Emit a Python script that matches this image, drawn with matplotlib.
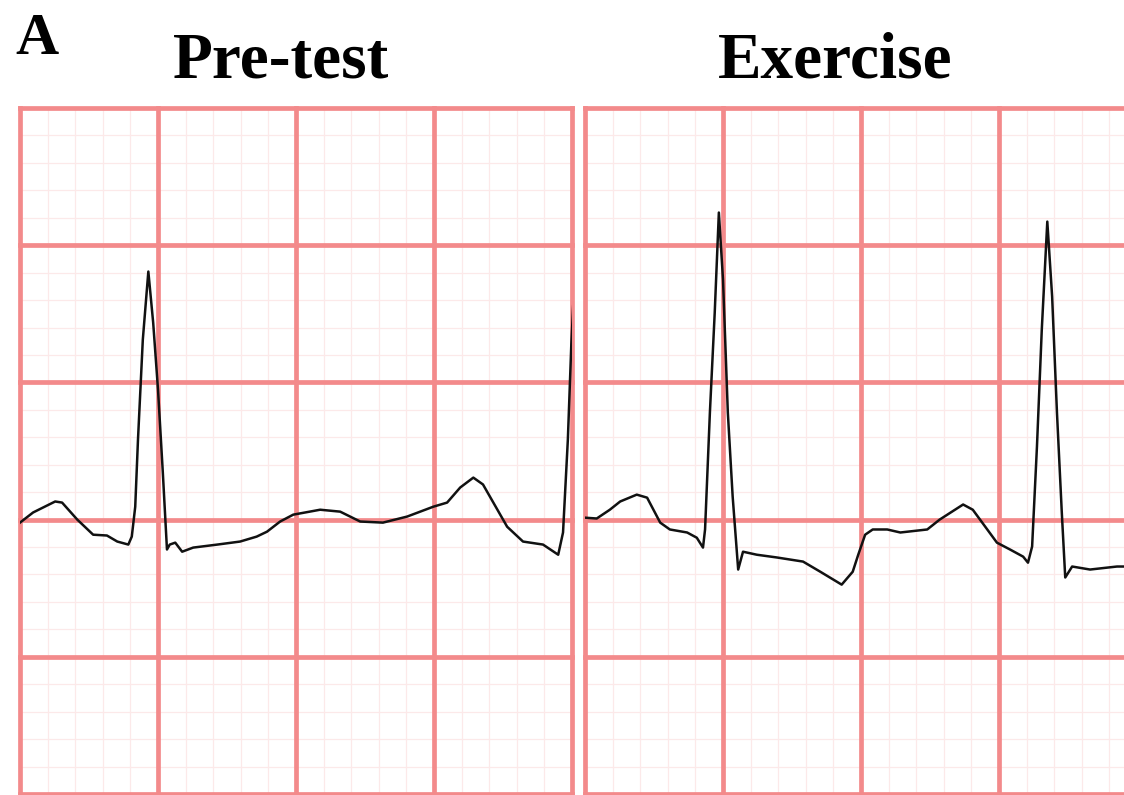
import matplotlib
matplotlib.use('Agg')
import matplotlib.pyplot as plt
import numpy as np

# ECG traces: time (s) and voltage (mV), 25 mm/s, 10 mm/mV
pre_t = [0.000, 0.019, 0.051, 0.061, 0.083, 0.106, 0.126, 0.141, 0.157, 0.162,
         0.167, 0.171, 0.178, 0.186, 0.193, 0.200, 0.207, 0.213, 0.217, 0.225,
         0.235, 0.251, 0.286, 0.319, 0.343, 0.358, 0.377, 0.396, 0.435, 0.464,
         0.493, 0.526, 0.561, 0.599, 0.619, 0.638, 0.657, 0.671, 0.706, 0.729,
         0.758, 0.780, 0.787, 0.794, 0.799, 0.805]
pre_mv = [-0.011, 0.026, 0.066, 0.062, 0.000, -0.055, -0.058, -0.080, -0.091, -0.062,
          0.047, 0.292, 0.656, 0.904, 0.718, 0.474, 0.171, -0.109, -0.091, -0.084,
          -0.117, -0.102, -0.091, -0.080, -0.062, -0.044, -0.007, 0.018, 0.036, 0.029,
          -0.007, -0.011, 0.011, 0.047, 0.062, 0.117, 0.153, 0.128, -0.026, -0.080,
          -0.091, -0.128, -0.047, 0.292, 0.638, 0.950]

ex_t = [0.000, 0.017, 0.036, 0.051, 0.075, 0.090, 0.109, 0.123, 0.148, 0.162,
        0.171, 0.174, 0.181, 0.188, 0.194, 0.200, 0.207, 0.214, 0.222, 0.229,
        0.249, 0.278, 0.316, 0.341, 0.372, 0.388, 0.396, 0.406, 0.417, 0.438,
        0.457, 0.496, 0.514, 0.548, 0.562, 0.597, 0.616, 0.635, 0.642, 0.648,
        0.655, 0.662, 0.670, 0.677, 0.684, 0.691, 0.696, 0.706, 0.732, 0.771,
        0.781]
ex_mv = [0.007, 0.004, 0.036, 0.066, 0.091, 0.080, -0.011, -0.036, -0.047, -0.066,
         -0.102, -0.036, 0.390, 0.754, 1.119, 0.875, 0.390, 0.084, -0.182, -0.117,
         -0.128, -0.138, -0.153, -0.190, -0.237, -0.190, -0.128, -0.055, -0.036, -0.036,
         -0.047, -0.036, 0.000, 0.055, 0.036, -0.084, -0.109, -0.135, -0.157, -0.098,
         0.266, 0.692, 1.086, 0.813, 0.390, 0.026, -0.211, -0.171, -0.182, -0.171,
         -0.171]

titles = ['Pre-test', 'Exercise']

W, H = 1124, 795
fig = plt.figure(figsize=(W / 100, H / 100), dpi=100)

major = '#f38a8b'
minor = '#fce9e9'


def ecg_axes(left, right, xmax, t, mv):
    ax = fig.add_axes([left / W, (H - 794) / H, (right - left) / W, (794 - 108) / H])
    ax.set_xlim(0, xmax)
    ax.set_ylim(-1.0, 1.5)
    for x in np.arange(0, xmax + 1e-6, 0.04):
        ax.axvline(x, color=minor, lw=0.9, zorder=0)
    for y in np.arange(-1.0, 1.5 + 1e-6, 0.1):
        ax.axhline(y, color=minor, lw=0.9, zorder=0)
    for x in np.arange(0, xmax + 1e-6, 0.2):
        ax.axvline(x, color=major, lw=3.4, zorder=1, clip_on=False)
    for y in np.arange(-1.0, 1.5 + 1e-6, 0.5):
        ax.axhline(y, color=major, lw=3.4, zorder=1, clip_on=False)
    ax.plot(t, mv, color='#111111', lw=1.8, zorder=3, solid_joinstyle='round')
    ax.set_xticks([])
    ax.set_yticks([])
    for s in ax.spines.values():
        s.set_visible(False)
    return ax


ecg_axes(20, 572, 0.8, pre_t, pre_mv)
ecg_axes(585, W, (W - 585) / 690, ex_t, ex_mv)

fig.text(281 / W, (H - 78) / H, titles[0], family='Liberation Serif', weight='bold',
         fontsize=47, ha='center', va='baseline')
fig.text(835 / W, (H - 78) / H, titles[1], family='Liberation Serif', weight='bold',
         fontsize=47, ha='center', va='baseline')
fig.text(15 / W, (H - 54) / H, 'A', family='Liberation Serif', weight='bold',
         fontsize=43, ha='left', va='baseline')

fig.savefig('out.png', dpi=100)
